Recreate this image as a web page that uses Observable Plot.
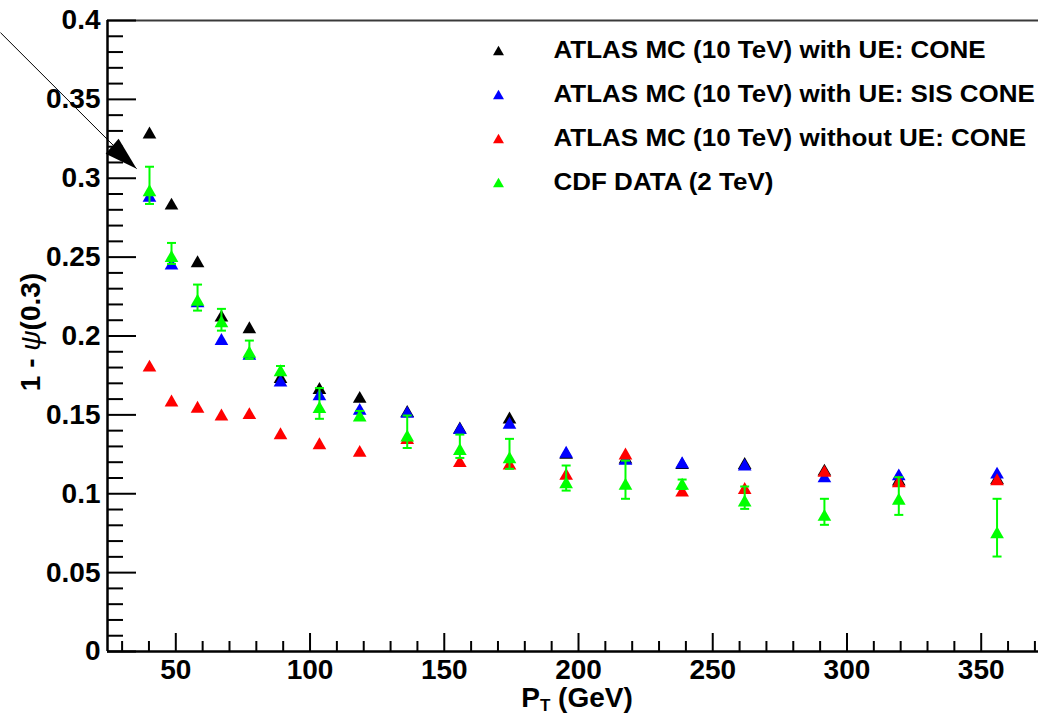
<!DOCTYPE html>
<html>
<head>
<meta charset="utf-8">
<script src="https://cdn.jsdelivr.net/npm/d3@7"></script>
<script src="https://cdn.jsdelivr.net/npm/@observablehq/plot@0.6"></script>
<style>
  html, body { margin: 0; padding: 0; background: #ffffff; overflow: hidden; }
  #chart svg { display: block; }
</style>
</head>
<body>
<div id="chart"></div>
<script>
// Jet shape 1 - psi(0.3) versus jet transverse momentum.
const pt = [40.2, 48.4, 58.1, 67.0, 77.4, 89.0, 103.5, 118.5, 136.2, 155.8, 174.3, 195.4, 217.5, 238.6, 261.9, 291.6, 319.3, 355.9];

const coneWithUE    = [0.329, 0.2839, 0.2474, 0.2129, 0.2055, 0.174, 0.167, 0.1614, 0.1525, 0.142, 0.1483, 0.1259, 0.123, 0.1195, 0.1195, 0.1153, 0.109, 0.110];
const sisConeWithUE = [0.2889, 0.2459, 0.222, 0.1981, 0.1888, 0.1717, 0.163, 0.1538, 0.1519, 0.1416, 0.145, 0.1266, 0.1221, 0.120, 0.1185, 0.111, 0.1123, 0.1134];
const coneNoUE      = [0.1812, 0.1591, 0.1551, 0.1502, 0.1511, 0.1384, 0.132, 0.1272, 0.1353, 0.1207, 0.1191, 0.1126, 0.1255, 0.102, 0.1037, 0.1145, 0.1079, 0.1092];
const cdfData       = [0.2924, 0.2507, 0.2230, 0.2093, 0.190, 0.1783, 0.155, 0.1496, 0.1369, 0.1284, 0.1231, 0.1073, 0.1063, 0.1063, 0.0957, 0.0866, 0.0968, 0.0756];
const cdfHigh       = [0.3073, 0.259, 0.2326, 0.2172, 0.1971, 0.181, 0.167, 0.1525, 0.1496, 0.1375, 0.1348, 0.1179, 0.121, 0.109, 0.1046, 0.0968, 0.1105, 0.0968];
const cdfLow        = [0.2837, 0.2457, 0.2161, 0.2034, 0.1855, 0.1755, 0.1475, 0.147, 0.129, 0.1227, 0.1158, 0.102, 0.0968, 0.103, 0.0904, 0.0803, 0.0866, 0.0602];

const seriesNames = [
  "ATLAS MC (10 TeV) with UE: CONE",
  "ATLAS MC (10 TeV) with UE: SIS CONE",
  "ATLAS MC (10 TeV) without UE: CONE",
  "CDF DATA (2 TeV)"
];
const seriesColors = ["#000000", "#0000ff", "#ff0000", "#00ff00"];

const xTickLabels = [50, 100, 150, 200, 250, 300, 350];
const yTickValues = [0, 0.05, 0.1, 0.15, 0.2, 0.25, 0.3, 0.35, 0.4];
const yTickLabels = ["0", "0.05", "0.1", "0.15", "0.2", "0.25", "0.3", "0.35", "0.4"];

const xTitle = "PT (GeV)";
const yTitle = "1 - \u03c8(0.3)";

// annotation arrow pointing at the first CDF point (data coordinates)
const arrowNote = [{x1: -15.3, y1: 0.3923, x2: 35.4, y2: 0.3061}];

// ---- layout ----
const W = 1038, H = 713;
const M = {top: 20, right: 0, bottom: 62, left: 107};
const frameW = W - M.left - M.right;
const frameH = H - M.top - M.bottom;
const xDomain = [24.56, 371.34];
const yDomain = [0, 0.4];
const FONT = "'Liberation Sans', Arial, Helvetica, sans-serif";

// tables built from the arrays
const mcSeries = [coneWithUE, sisConeWithUE, coneNoUE].map((vals, k) =>
  pt.map((x, i) => ({x, y: vals[i], color: seriesColors[k]}))
);
const cdfRows = pt.map((x, i) => ({x, y: cdfData[i], lo: cdfLow[i], hi: cdfHigh[i]}));
const legendRows = seriesNames.map((name, i) => ({name, color: seriesColors[i], i}));

const xMinor = d3.range(30, 371, 10).filter(v => v % 50 !== 0);
const yMinor = d3.range(0, 41, 1).filter(v => v % 5 !== 0).map(v => v / 100);

// upward triangle centred on its bounding box
const triangleUp = {
  draw(context, size) {
    const r = Math.sqrt(size / Math.PI);
    const w = 1.34 * r, h = 1.17 * r;
    context.moveTo(0, -h);
    context.lineTo(w, h);
    context.lineTo(-w, h);
    context.closePath();
  }
};
// horizontal error-bar cap
const capSymbol = {
  draw(context, size) {
    const r = Math.sqrt(size / Math.PI);
    context.moveTo(-r, 0);
    context.lineTo(r, 0);
  }
};
// filled arrow head, tip at the anchor, pointing down-right
const arrowHead = {
  draw(context) {
    context.moveTo(0, 0);
    context.lineTo(-31, -15);
    context.lineTo(-18, -30);
    context.closePath();
  }
};

const legendMarks = legendRows.flatMap(row => [
  Plot.dot([row], {frameAnchor: "top-left", dx: 391, dy: 30 + row.i * 44,
    symbol: triangleUp, r: 4.1, fill: row.color}),
  Plot.text([row], {frameAnchor: "top-left", dx: 446, dy: 30 + row.i * 44,
    text: "name", textAnchor: "start", lineAnchor: "middle",
    fontSize: 23, fontWeight: "bold", fill: "#000"})
]);

const chart = Plot.plot({
  width: W,
  height: H,
  marginTop: M.top,
  marginRight: M.right,
  marginBottom: M.bottom,
  marginLeft: M.left,
  style: {fontFamily: FONT, background: "#ffffff", color: "#000"},
  x: {domain: xDomain, axis: null},
  y: {domain: yDomain, axis: null},
  marks: [
    // frame: left and bottom axis lines, top border
    Plot.ruleY([yDomain[1]], {stroke: "#3a3a3a", strokeWidth: 2}),
    Plot.ruleX([xDomain[0]], {stroke: "#000", strokeWidth: 2.5}),
    Plot.ruleY([yDomain[0]], {stroke: "#000", strokeWidth: 2.5}),

    // inward ticks
    Plot.ruleY(yTickValues, {y: d => d, insetRight: frameW - 29, stroke: "#000", strokeWidth: 2}),
    Plot.ruleY(yMinor, {y: d => d, insetRight: frameW - 16, stroke: "#000", strokeWidth: 2}),
    Plot.ruleX(xTickLabels, {x: d => d, insetTop: frameH - 18, stroke: "#000", strokeWidth: 2}),
    Plot.ruleX(xMinor, {x: d => d, insetTop: frameH - 10, stroke: "#000", strokeWidth: 2}),

    // tick labels
    Plot.text(xTickLabels, {x: d => d, text: d => String(d), frameAnchor: "bottom", dy: 19,
      textAnchor: "middle", lineAnchor: "middle", fontSize: 28, fontWeight: "bold", fill: "#000"}),
    Plot.text(yTickValues, {y: d => d, text: (d, i) => yTickLabels[i], frameAnchor: "left", dx: -7,
      textAnchor: "end", lineAnchor: "middle", fontSize: 28, fontWeight: "bold", fill: "#000"}),

    // axis titles
    Plot.text([xTitle], {text: d => d, frameAnchor: "bottom", dx: 4, dy: 47,
      textAnchor: "middle", lineAnchor: "middle",
      fontSize: 28, fontWeight: "bold", fill: "#000"}),
    Plot.text([yTitle], {text: d => d, frameAnchor: "left", dx: -76, dy: -4, rotate: -90,
      textAnchor: "middle", lineAnchor: "middle", fontSize: 28, fontWeight: "bold", fill: "#000"}),

    // simulation series
    ...mcSeries.map(rows =>
      Plot.dot(rows, {x: "x", y: "y", symbol: triangleUp, r: 5.1, fill: "color"})
    ),

    // CDF data with error bars
    Plot.ruleX(cdfRows, {x: "x", y1: "lo", y2: "hi", stroke: seriesColors[3], strokeWidth: 2}),
    Plot.dot(cdfRows, {x: "x", y: "hi", symbol: capSymbol, r: 4.5, fill: "none", stroke: seriesColors[3], strokeWidth: 2}),
    Plot.dot(cdfRows, {x: "x", y: "lo", symbol: capSymbol, r: 4.5, fill: "none", stroke: seriesColors[3], strokeWidth: 2}),
    Plot.dot(cdfRows, {x: "x", y: "y", symbol: triangleUp, r: 5.1, fill: seriesColors[3]}),

    // legend
    ...legendMarks,

    // annotation arrow
    Plot.link(arrowNote, {x1: "x1", y1: "y1", x2: "x2", y2: "y2", stroke: "#000", strokeWidth: 1}),
    Plot.dot(arrowNote, {x: "x2", y: "y2", symbol: arrowHead, r: 5, fill: "#000"})
  ]
});

document.getElementById("chart").append(chart);

const allText = d3.select(chart).selectAll("text");

// legend labels are drawn slightly wide
allText.filter(function () { return seriesNames.includes(this.textContent); }).each(function () {
  const w = this.getComputedTextLength();
  this.setAttribute("textLength", (w * 1.13).toFixed(1));
  this.setAttribute("lengthAdjust", "spacingAndGlyphs");
});

// subscript T in the x title
allText.filter(function () { return this.textContent === xTitle; }).each(function () {
  const t = d3.select(this);
  t.text(null);
  t.append("tspan").text("P");
  t.append("tspan").attr("font-size", 17).attr("dy", 4).text("T");
  t.append("tspan").attr("dy", -4).text(" (GeV)");
});

// the Greek letter in the y title is set in a regular, slanted face
allText.filter(function () { return this.textContent === yTitle; }).each(function () {
  const t = d3.select(this);
  t.text(null);
  t.append("tspan").text("1 - ");
  t.append("tspan").attr("font-weight", "normal").attr("font-style", "italic").text("\u03c8");
  t.append("tspan").text("(0.3)");
});
</script>
</body>
</html>
